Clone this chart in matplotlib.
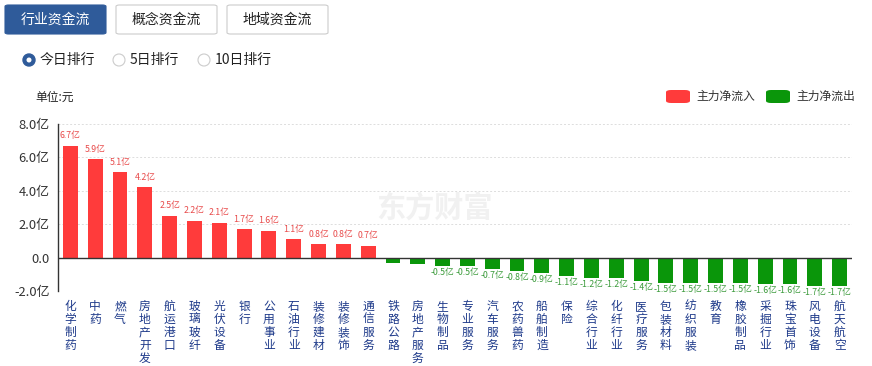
import matplotlib
matplotlib.use("Agg")
import matplotlib.pyplot as plt
from matplotlib.patches import FancyBboxPatch, Circle
import numpy as np

plt.rcParams['font.family'] = ['Noto Sans CJK SC', 'DejaVu Sans']

categories = ["化学制药", "中药", "燃气", "房地产开发", "航运港口", "玻璃玻纤", "光伏设备", "银行",
              "公用事业", "石油行业", "装修建材", "装修装饰", "通信服务", "铁路公路", "房地产服务",
              "生物制品", "专业服务", "汽车服务", "农药兽药", "船舶制造", "保险", "综合行业",
              "化纤行业", "医疗服务", "包装材料", "纺织服装", "教育", "橡胶制品", "采掘行业",
              "珠宝首饰", "风电设备", "航天航空"]
values = [6.7, 5.9, 5.1, 4.2, 2.5, 2.2, 2.1, 1.7, 1.6, 1.1, 0.8, 0.8, 0.7, -0.3, -0.4,
          -0.5, -0.5, -0.7, -0.8, -0.9, -1.1, -1.2, -1.2, -1.4, -1.5, -1.5, -1.5, -1.5,
          -1.6, -1.6, -1.7, -1.7]
show_label = [True] * 13 + [False, False] + [True] * 17
yticks = [-2, 0, 2, 4, 6, 8]
ytick_labels = ["-2.0亿", "0.0", "2.0亿", "4.0亿", "6.0亿", "8.0亿"]
tabs = ["行业资金流", "概念资金流", "地域资金流"]
radios = ["今日排行", "5日排行", "10日排行"]
legend_labels = ["主力净流入", "主力净流出"]

RED = "#ff3b3b"
GREEN = "#0a960a"
BLUE = "#2f5b9a"
W, H = 872, 366

fig = plt.figure(figsize=(W / 100, H / 100), dpi=100)
fig.patch.set_facecolor("white")

def fx(px):
    return px / W

def fy(py):
    return 1 - py / H

ax = fig.add_axes([fx(58), fy(291), fx(852 - 58), (291 - 124) / H])
x = np.arange(len(categories))
colors = [RED if v >= 0 else GREEN for v in values]
ax.bar(x, values, width=0.6, color=colors, zorder=3)
ax.set_xlim(-0.5, len(categories) - 0.5)
ax.set_ylim(-2, 8)
ax.set_yticks(yticks)
ax.set_yticklabels(ytick_labels, fontsize=9.3, color="#333333")
ax.tick_params(axis="y", length=0, pad=6)
ax.set_xticks(x)
ax.set_xticklabels(["\n".join(c) for c in categories], fontsize=8.5, color="#1e3a8a",
                   linespacing=1.0, va="top")
ax.tick_params(axis="x", length=0, pad=6.5)
for s in ["top", "right", "bottom"]:
    ax.spines[s].set_visible(False)
ax.spines["left"].set_color("#333333")
ax.spines["left"].set_linewidth(1)
for yv in [-2, 2, 4, 6, 8]:
    ax.axhline(yv, color="#dddddd", lw=0.7, ls=(0, (2, 2)), zorder=1)
ax.axhline(0, color="#333333", lw=1, zorder=4)

for xi, v, show in zip(x, values, show_label):
    if not show:
        continue
    if v >= 0:
        ax.annotate(f"{v:.1f}亿", (xi, v), xytext=(0, 4), textcoords="offset points",
                    ha="center", va="bottom", fontsize=6.3, color="#e84a4a")
    else:
        ax.annotate(f"{v:.1f}亿", (xi, v), xytext=(0, -1.5), textcoords="offset points",
                    ha="center", va="top", fontsize=6.3, color="#3a9a3a")

# watermark
fig.text(fx(376), fy(208), "东方财富", fontsize=21, fontweight="bold", color="#f1f1f1",
         ha="left", va="center", zorder=0)

# tabs
tab_x = [5, 116, 227]
for i, (tx, t) in enumerate(zip(tab_x, tabs)):
    filled = i == 0
    box = FancyBboxPatch((fx(tx), fy(34)), fx(101), (34 - 5) / H,
                         boxstyle="round,pad=0,rounding_size=0.004",
                         transform=fig.transFigure,
                         facecolor=BLUE if filled else "white",
                         edgecolor=BLUE if filled else "#cccccc", lw=0.8)
    fig.patches.append(box)
    fig.text(fx(tx + 50.5), fy(19.5), t, fontsize=10, color="white" if filled else "#222222",
             ha="center", va="center")

# radios
radio_x = [29, 119, 204]
for i, (rx, r) in enumerate(zip(radio_x, radios)):
    cx, cy = rx / 100, (H - 60) / 100
    if i == 0:
        fig.patches.append(Circle((cx, cy), 0.06, transform=fig.dpi_scale_trans,
                                  facecolor=BLUE, edgecolor=BLUE))
        fig.patches.append(Circle((cx, cy), 0.025, transform=fig.dpi_scale_trans,
                                  facecolor="white", edgecolor="none"))
    else:
        fig.patches.append(Circle((cx, cy), 0.06, transform=fig.dpi_scale_trans,
                                  facecolor="white", edgecolor="#cccccc", lw=0.8))
    fig.text(fx(rx + 11), fy(60), r, fontsize=10, color="#222222", ha="left", va="center")

fig.text(fx(35), fy(97), "单位:元", fontsize=8.5, color="#222222", ha="left", va="center")

# legend
leg_x = [666, 766]
for lx, lab, c in zip(leg_x, legend_labels, [RED, GREEN]):
    box = FancyBboxPatch((fx(lx), fy(103)), fx(24), 13 / H,
                         boxstyle="round,pad=0,rounding_size=0.006",
                         transform=fig.transFigure, facecolor=c, edgecolor="none")
    fig.patches.append(box)
    fig.text(fx(lx + 30), fy(96.5), lab, fontsize=8.5, color="#333333", ha="left", va="center")

fig.savefig("out.png", dpi=100)
